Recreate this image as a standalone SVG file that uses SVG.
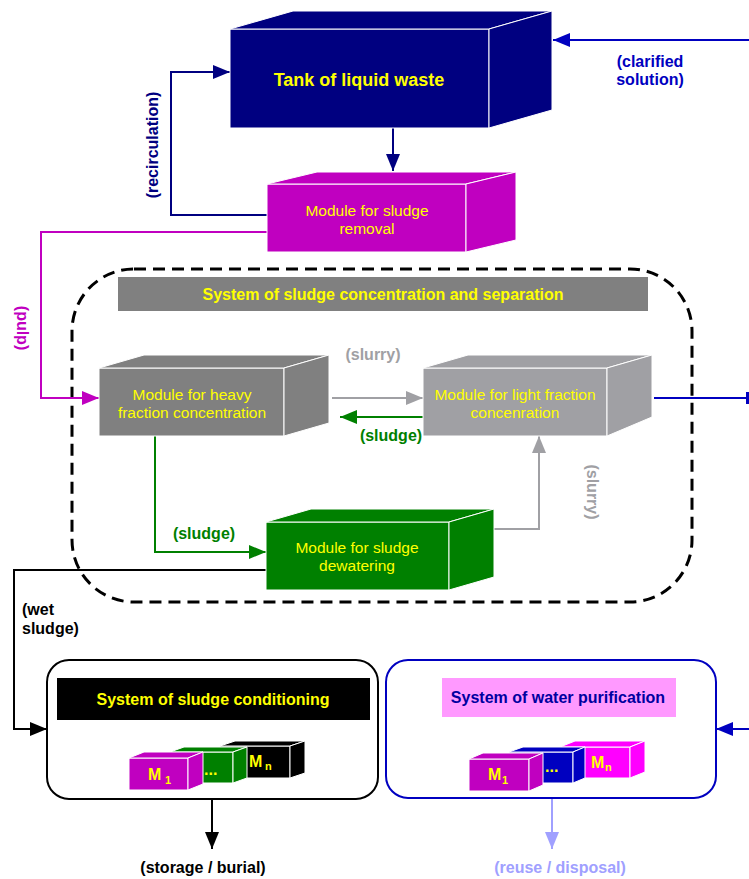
<svg xmlns="http://www.w3.org/2000/svg" width="749" height="879" viewBox="0 0 749 879">
<style>
text{font-family:"Liberation Sans",Arial,sans-serif}
.mt{font-size:15.5px;fill:#ffff00;text-anchor:middle}
.lb{font-size:16px;font-weight:bold;text-anchor:middle}
.cube polygon,.cube rect{stroke:#ffffff;stroke-width:1}
.sc polygon,.sc rect{stroke:#ffffff;stroke-width:1}
.ln{fill:none;stroke-width:2}
.mk{font-size:16px;font-weight:bold;fill:#ffff00}
.sub{font-size:11px;font-weight:bold;fill:#ffff00}
</style>
<defs>
<marker id="aNavy" markerUnits="userSpaceOnUse" markerWidth="17" markerHeight="14" viewBox="0 0 17 14" refX="17" refY="7" orient="auto"><path d="M0,0 L17,7 L0,14 z" fill="#000080"/></marker>
<marker id="aBlue" markerUnits="userSpaceOnUse" markerWidth="17" markerHeight="14" viewBox="0 0 17 14" refX="17" refY="7" orient="auto"><path d="M0,0 L17,7 L0,14 z" fill="#0000c0"/></marker>
<marker id="aMag" markerUnits="userSpaceOnUse" markerWidth="17" markerHeight="14" viewBox="0 0 17 14" refX="17" refY="7" orient="auto"><path d="M0,0 L17,7 L0,14 z" fill="#c000c0"/></marker>
<marker id="aGray" markerUnits="userSpaceOnUse" markerWidth="17" markerHeight="14" viewBox="0 0 17 14" refX="17" refY="7" orient="auto"><path d="M0,0 L17,7 L0,14 z" fill="#a0a0a4"/></marker>
<marker id="aGreen" markerUnits="userSpaceOnUse" markerWidth="17" markerHeight="14" viewBox="0 0 17 14" refX="17" refY="7" orient="auto"><path d="M0,0 L17,7 L0,14 z" fill="#008000"/></marker>
<marker id="aBlack" markerUnits="userSpaceOnUse" markerWidth="17" markerHeight="14" viewBox="0 0 17 14" refX="17" refY="7" orient="auto"><path d="M0,0 L17,7 L0,14 z" fill="#000000"/></marker>
<marker id="aLight" markerUnits="userSpaceOnUse" markerWidth="17" markerHeight="14" viewBox="0 0 17 14" refX="17" refY="7" orient="auto"><path d="M0,0 L17,7 L0,14 z" fill="#a0a0ff"/></marker>
</defs>
<rect width="749" height="879" fill="#ffffff"/>

<g id="system-concentration">
<rect x="72" y="269" width="620" height="333" rx="62" ry="62" fill="none" stroke="#000000" stroke-width="3" stroke-dasharray="12 7"/>
<rect x="118" y="277" width="530" height="34" fill="#808080"/>
<text x="383" y="300" class="lb" fill="#ffff00">System of sludge concentration and separation</text>
</g>

<g id="connectors">
<path class="ln" d="M393,128 V171" stroke="#000080" marker-end="url(#aNavy)"/>
<path class="ln" d="M267,215 H171 V72 H230" stroke="#000080" marker-end="url(#aNavy)"/>
<path class="ln" d="M749,40 H553" stroke="#0000c0" marker-end="url(#aBlue)"/>
<path class="ln" d="M267,232 H41 V398 H99" stroke="#c000c0" marker-end="url(#aMag)"/>
<path class="ln" d="M332,398 H423" stroke="#a0a0a4" marker-end="url(#aGray)"/>
<path class="ln" d="M423,417 H340" stroke="#008000" marker-end="url(#aGreen)"/>
<path class="ln" d="M654,398 H749" stroke="#0000c0"/>
<rect x="746" y="392" width="3" height="12" fill="#0000c0"/>
<path class="ln" d="M155,436 V552 H266" stroke="#008000" marker-end="url(#aGreen)"/>
<path class="ln" d="M494,529 H539 V436" stroke="#a0a0a4" marker-end="url(#aGray)"/>
<path class="ln" d="M266,570 H14 V729 H47" stroke="#000000" marker-end="url(#aBlack)"/>
<path class="ln" d="M212,799 V849" stroke="#000000" marker-end="url(#aBlack)"/>
<path class="ln" d="M552,798 V849" stroke="#a0a0ff" marker-end="url(#aLight)"/>
<path class="ln" d="M749,729 H716" stroke="#0000c0" marker-end="url(#aBlue)"/>
<text class="lb" fill="#000080" transform="translate(153,145) rotate(-90)" dy="5">(recirculation)</text>
<text class="lb" fill="#c000c0" transform="translate(22,328) rotate(90)" dy="5">(pulp)</text>
<text class="lb" fill="#a0a0a4" transform="translate(592,492) rotate(90)" dy="5">(slurry)</text>
<text class="lb" fill="#a0a0a4" x="373" y="360">(slurry)</text>
<text class="lb" fill="#008000" x="391" y="441">(sludge)</text>
<text class="lb" fill="#008000" x="204" y="539">(sludge)</text>
<text class="lb" fill="#000000" x="22" y="615" text-anchor="start" style="text-anchor:start">(wet</text>
<text class="lb" fill="#000000" x="22" y="634" style="text-anchor:start">sludge)</text>
<text class="lb" fill="#0000c0" x="650" y="67">(clarified</text>
<text class="lb" fill="#0000c0" x="650" y="85">solution)</text>
<text class="lb" fill="#000000" x="203" y="873">(storage / burial)</text>
<text class="lb" fill="#a0a0ff" x="560" y="873">(reuse / disposal)</text>
</g>

<g id="tank" class="cube">
<rect x="230" y="29" width="259" height="99" fill="#000080"/>
<polygon points="230,29 293,11 552,11 489,29" fill="#000080"/>
<polygon points="489,29 552,11 552,110 489,128" fill="#000080"/>
<text x="359" y="86" font-size="18" font-weight="bold" fill="#ffff00" text-anchor="middle">Tank of liquid waste</text>
</g>

<g id="sludge-removal" class="cube">
<rect x="267" y="184" width="199" height="68" fill="#c000c0"/>
<polygon points="267,184 317,172 516,172 466,184" fill="#c000c0"/>
<polygon points="466,184 516,172 516,240 466,252" fill="#c000c0"/>
<text x="367" y="216" class="mt">Module for sludge</text>
<text x="367" y="234" class="mt">removal</text>
</g>

<g id="heavy-fraction" class="cube">
<rect x="99" y="368" width="185" height="68" fill="#808080"/>
<polygon points="99,368 144,355 329,355 284,368" fill="#808080"/>
<polygon points="284,368 329,355 329,423 284,436" fill="#808080"/>
<text x="192" y="400" class="mt">Module for heavy</text>
<text x="192" y="418" class="mt">fraction concentration</text>
</g>

<g id="light-fraction" class="cube">
<rect x="423" y="368" width="184" height="68" fill="#a0a0a4"/>
<polygon points="423,368 468,355 652,355 607,368" fill="#a0a0a4"/>
<polygon points="607,368 652,355 652,417 607,436" fill="#a0a0a4"/>
<text x="515" y="400" class="mt">Module for light fraction</text>
<text x="515" y="418" class="mt">concenration</text>
</g>

<g id="dewatering" class="cube">
<rect x="266" y="522" width="183" height="68" fill="#008000"/>
<polygon points="266,522 311,509 494,509 449,522" fill="#008000"/>
<polygon points="449,522 494,509 494,577 449,590" fill="#008000"/>
<text x="357" y="553" class="mt">Module for sludge</text>
<text x="357" y="571" class="mt">dewatering</text>
</g>

<g id="sludge-conditioning">
<rect x="47" y="660" width="331" height="139" rx="22" ry="22" fill="#ffffff" stroke="#000000" stroke-width="2"/>
<rect x="57" y="678" width="313" height="42" fill="#000000"/>
<text x="213" y="705" class="lb" fill="#ffff00">System of sludge conditioning</text>
<g class="sc">
<rect x="220" y="746" width="70" height="32" fill="#000000"/>
<polygon points="220,746 235,741 305,741 290,746" fill="#000000"/>
<polygon points="290,746 305,741 305,773 290,778" fill="#000000"/>
<rect x="170" y="752" width="63" height="31" fill="#008000"/>
<polygon points="170,752 184,747 247,747 233,752" fill="#008000"/>
<polygon points="233,752 247,747 247,778 233,783" fill="#008000"/>
<rect x="129" y="758" width="59" height="32" fill="#c000c0"/>
<polygon points="129,758 144,752 203,752 188,758" fill="#c000c0"/>
<polygon points="188,758 203,752 203,784 188,790" fill="#c000c0"/>
</g>
<text x="148" y="780" class="mk">M</text><text x="165" y="784" class="sub">1</text>
<text x="204" y="775" class="mk">...</text>
<text x="249" y="767" class="mk">M</text><text x="265" y="770" class="sub">n</text>
</g>

<g id="water-purification">
<rect x="386" y="660" width="330" height="138" rx="22" ry="22" fill="#ffffff" stroke="#0000c0" stroke-width="2"/>
<rect x="442" y="678" width="234" height="39" fill="#ff99ff"/>
<text x="558" y="703" class="lb" fill="#0000a0">System of water purification</text>
<g class="sc">
<rect x="560" y="747" width="70" height="31" fill="#ff00ff"/>
<polygon points="560,747 575,741 645,741 630,747" fill="#ff00ff"/>
<polygon points="630,747 645,741 645,772 630,778" fill="#ff00ff"/>
<rect x="509" y="752" width="64" height="31" fill="#0000c0"/>
<polygon points="509,752 523,747 585,747 573,752" fill="#0000c0"/>
<polygon points="573,752 585,747 585,778 573,783" fill="#0000c0"/>
<rect x="469" y="759" width="60" height="32" fill="#c000c0"/>
<polygon points="469,759 483,753 543,753 529,759" fill="#c000c0"/>
<polygon points="529,759 543,753 543,785 529,791" fill="#c000c0"/>
</g>
<text x="488" y="780" class="mk">M</text><text x="502" y="784" class="sub">1</text>
<text x="545" y="772" class="mk">...</text>
<text x="591" y="768" class="mk">M</text><text x="605" y="771" class="sub">n</text>
</g>
</svg>
